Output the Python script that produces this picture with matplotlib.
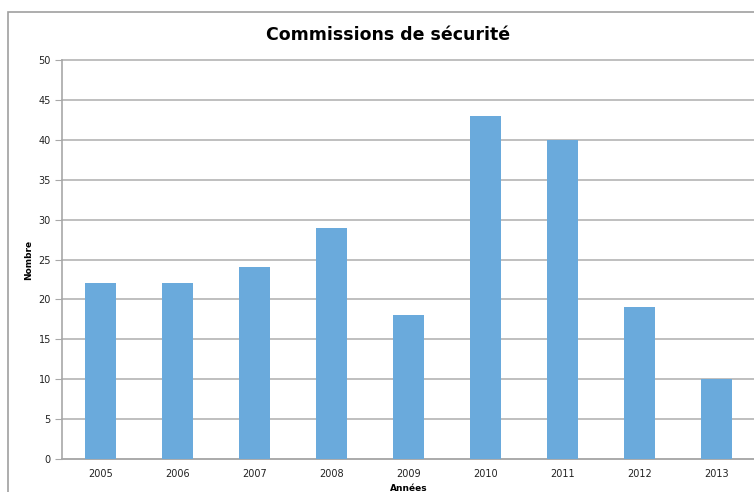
import matplotlib
matplotlib.use("Agg")
import matplotlib.pyplot as plt
from matplotlib.patches import Rectangle

years = ["2005", "2006", "2007", "2008", "2009", "2010", "2011", "2012", "2013"]
values = [22, 22, 24, 29, 18, 43, 40, 19, 10]
yticks = [0, 5, 10, 15, 20, 25, 30, 35, 40, 45, 50]

plt.rcParams['font.family'] = ['DejaVu Sans']

W, H = 754, 492
fig = plt.figure(figsize=(W/100, H/100), dpi=100)
ax = fig.add_axes([62/W, 1-459/H, (755-62)/W, (459-60)/H])

x = list(range(len(years)))
ax.bar(x, values, width=0.4, color="#6aaadc", zorder=3)
ax.set_xlim(-0.5, len(years)-0.5)
ax.set_ylim(0, 50)
ax.set_yticks(yticks)
ax.set_xticks(x)
ax.set_xticklabels(years)
ax.yaxis.grid(True, color="#b4b4b4", linewidth=1.2, zorder=0)
for gl in ax.get_ygridlines():
    gl.set_clip_on(False)
ax.set_axisbelow(True)
for s in ["top", "right"]:
    ax.spines[s].set_visible(False)
for s in ["left", "bottom"]:
    ax.spines[s].set_color("#a8a8a8")
    ax.spines[s].set_linewidth(1.2)
ax.tick_params(axis="y", length=5, color="#a8a8a8", labelsize=7, labelcolor="#222222", pad=3)
ax.tick_params(axis="x", length=0, labelsize=7, labelcolor="#222222", pad=7)

fig.text(388/W, 1-35/H, "Commissions de sécurité", fontsize=12.5, fontweight="bold",
         ha="center", va="center")
ax.set_ylabel("Nombre", fontsize=6.5, fontweight="bold", labelpad=4)
ax.set_xlabel("Années", fontsize=6.5, fontweight="bold", labelpad=4)

fig.patches.append(Rectangle((8/W, -0.1), 1.2, 1-12/H+0.1, transform=fig.transFigure,
                             fill=False, edgecolor="#a0a0a0", linewidth=1.2))

fig.savefig("out.png", dpi=100)
